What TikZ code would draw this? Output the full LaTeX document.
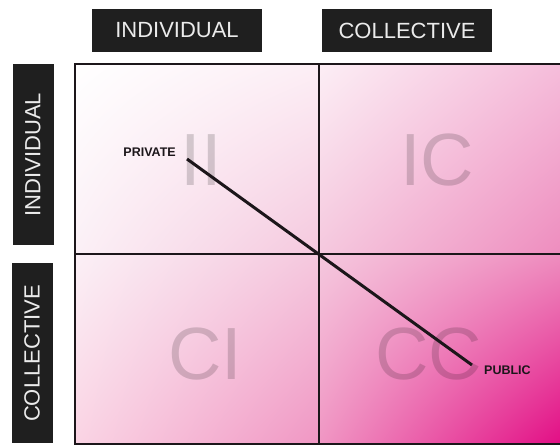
\documentclass[tikz,border=0pt]{standalone}
\usepackage{fontspec}
\setmainfont{Liberation Sans}
\usetikzlibrary{shadings}
\definecolor{gA}{RGB}{255,255,255}
\definecolor{gB}{RGB}{252,238,245}
\definecolor{gC}{RGB}{245,188,218}
\definecolor{gD}{RGB}{251,240,246}
\definecolor{gE}{RGB}{245,200,222}
\definecolor{gF}{RGB}{238,140,190}
\definecolor{gG}{RGB}{250,212,228}
\definecolor{gH}{RGB}{240,150,195}
\definecolor{gI}{RGB}{226,12,132}
\definecolor{ink}{RGB}{28,22,26}

\begin{document}
\begin{tikzpicture}[x=1pt, y=-1pt,
  tag/.style={fill=black!88, text=white!92!black, inner sep=0pt,
    font=\fontsize{22}{22}\selectfont},
  quad/.style={text=black, text opacity=0.16, inner sep=0pt,
    font=\fontsize{74}{74}\selectfont},
  pole/.style={text=ink, inner sep=0pt,
    font=\bfseries\fontsize{12.5}{12.5}\selectfont},
  grid/.style={ink, line width=2.6pt}]
\useasboundingbox (0,0) rectangle (560,446);
\clip (0,0) rectangle (560,446);

% four shaded quadrants
\shade[upper left=gA, upper right=gB, lower left=gD, lower right=gE] (75,64) rectangle (319,254);
\shade[upper left=gB, upper right=gC, lower left=gE, lower right=gF] (319,64) rectangle (563,254);
\shade[upper left=gD, upper right=gE, lower left=gG, lower right=gH] (75,254) rectangle (319,444);
\shade[upper left=gE, upper right=gF, lower left=gH, lower right=gI] (319,254) rectangle (563,444);

% quadrant letters
\node[quad] (ii) at (201,160) {II};
\node[quad] (ic) at (437,160) {IC};
\node[quad] (ci) at (205,354) {CI};
\node[quad] (cc) at (429,354) {CC};

% frame and cross
\draw[grid] (75,64) rectangle (563,444);
\draw[grid] (319,64) -- (319,444);
\draw[grid] (75,254) -- (563,254);

% headers
\node[tag, minimum width=170, minimum height=43] (colI) at (177,30.5) {INDIVIDUAL};
\node[tag, minimum width=170, minimum height=43] (colC) at (407,30.5) {COLLECTIVE};
\node[tag, rotate=90, minimum width=181, minimum height=41] (rowI) at (33,154.5) {INDIVIDUAL};
\node[tag, rotate=90, minimum width=180, minimum height=41] (rowC) at (32,353.5) {COLLECTIVE};

% private -- public
\coordinate (pv) at (187,159);
\coordinate (pb) at (472,365);
\draw[ink, line width=3pt] (pv) -- (pb);
\node[pole, anchor=east] (private) at (176,152) {PRIVATE};
\node[pole, anchor=west] (public) at (484,370.5) {PUBLIC};
\end{tikzpicture}
\end{document}
